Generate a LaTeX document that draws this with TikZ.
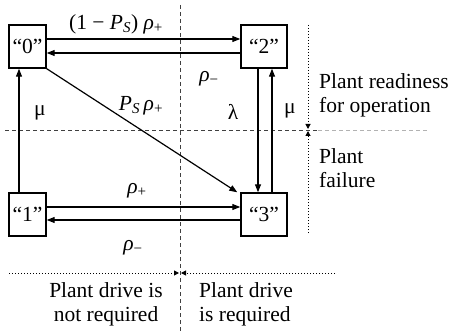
\documentclass[tikz,border=0pt]{standalone}
\usepackage{fontspec}
\setmainfont{Liberation Serif}
\usetikzlibrary{arrows.meta,calc}
\newcommand{\myrho}[1]{{\itshape ρ}\textsubscript{#1}}
\begin{document}
\begin{tikzpicture}[x=1pt,y=-1pt,
  font=\fontsize{21.5}{24}\selectfont,
  state/.style={draw,line width=1.4pt,minimum height=43pt,inner sep=0pt},
  arr/.style={line width=1.2pt,-{Triangle[length=8pt,width=6pt]}},
  dline/.style={dash pattern=on 4pt off 3pt,line width=0.7pt,black!75},
  ldline/.style={dash pattern=on 4pt off 3pt,line width=0.7pt,black!30},
  dotarr/.style={dotted,line width=1pt,-{Triangle[length=5pt,width=5pt]}},
  lbl/.style={inner sep=0pt}]
\useasboundingbox (0,0) rectangle (449,331);
% divider lines
\coordinate (vt) at (180,5);
\coordinate (vb) at (180,331);
\coordinate (hl) at (5,130);
\coordinate (hm) at (318,130);
\coordinate (hr) at (428,130);
\draw[dline] (vt) -- (vb);
\draw[dline] (hl) -- (hm);
\draw[ldline] (hm) -- (hr);
% states
\node[state,minimum width=37pt] (n0) at (27.5,46.5) {“0”};
\node[state,minimum width=46pt] (n2) at (264,46.5) {“2”};
\node[state,minimum width=37pt] (n1) at (27.5,214.5) {“1”};
\node[state,minimum width=46pt] (n3) at (264,214.5) {“3”};
% transitions
\draw[arr] ($(n0.east)+(0,-7.5)$) -- ($(n2.west)+(0,-7.5)$);
\draw[arr] ($(n2.west)+(0,6.5)$) -- ($(n0.east)+(0,6.5)$);
\draw[arr] ($(n1.east)+(0,-7.5)$) -- ($(n3.west)+(0,-7.5)$);
\draw[arr] ($(n3.west)+(0,5.5)$) -- ($(n1.east)+(0,5.5)$);
\draw[arr] ($(n1.north)+(-8.5,0)$) -- ($(n0.south)+(-8.5,0)$);
\draw[arr] ($(n2.south)+(-6,0)$) -- ($(n3.north)+(-6,0)$);
\draw[arr] ($(n3.north)+(8,0)$) -- ($(n2.south)+(8,0)$);
\draw[arr] (n0.south east) -- ($(n3.north west)+(-3,0)$);
% labels
\node[lbl] (l02) at (116,24) {(1 − {\itshape P}\textsubscript{\itshape S}) \myrho{+}};
\node[lbl] (l20) at (209,79) {\myrho{−}};
\node[lbl] (l03) at (141,106) {{\itshape P}\textsubscript{\itshape S}\,\myrho{+}};
\node[lbl] (lmu1) at (40,113) {μ};
\node[lbl] (llam) at (233,112) {λ};
\node[lbl] (lmu2) at (290,111) {μ};
\node[lbl] (l13) at (137,191) {\myrho{+}};
\node[lbl] (l31) at (133,248) {\myrho{−}};
% region marks
\coordinate (rt) at (308,25);
\coordinate (rm1) at (308,129);
\coordinate (rm2) at (308,131);
\coordinate (rb) at (308,233);
\draw[dotarr] (rt) -- (rm1);
\draw[dotarr] (rb) -- (rm2);
\coordinate (bl) at (9,273);
\coordinate (bm1) at (179,273);
\coordinate (bm2) at (181,273);
\coordinate (br) at (335,273);
\draw[dotarr] (bl) -- (bm1);
\draw[dotarr] (br) -- (bm2);
\node[lbl,anchor=west,align=left] (tr) at (319,95) {Plant readiness\\for operation};
\node[lbl,anchor=west,align=left] (tf) at (319,168) {Plant\\failure};
\node[lbl,align=center] (tn) at (106,304) {Plant drive is\\not required};
\node[lbl,anchor=west,align=left] (tq) at (199,304) {Plant drive\\is required};
\end{tikzpicture}
\end{document}
